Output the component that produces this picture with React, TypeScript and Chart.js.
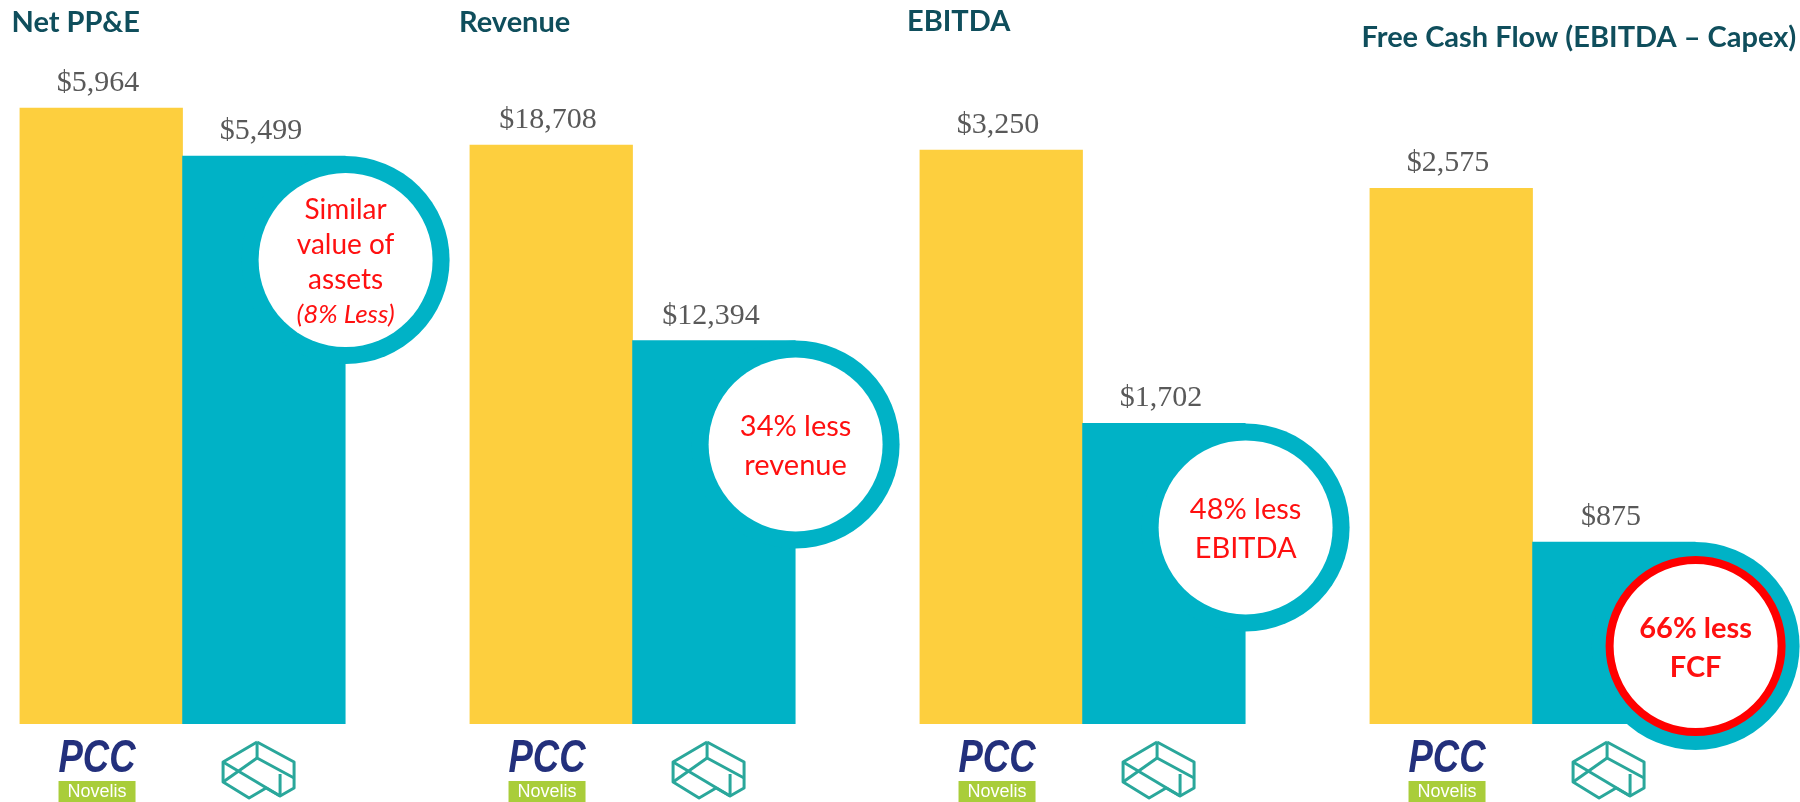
import React, { useEffect, useRef } from 'react';
import { Chart, registerables } from 'chart.js';

Chart.register(...registerables);

// ---- data ----
const panelTitles = ['Net PP&E', 'Revenue', 'EBITDA', 'Free Cash Flow (EBITDA \u2013 Capex)'];
const companies = ['PCC', 'Arconic'];
const pccValues = [5964, 18708, 3250, 2575];
const arconicValues = [5499, 12394, 1702, 875];
const axisMax = [7010, 23400, 4100, 3480];
const bubbleLines = [
  ['Similar', 'value of', 'assets', '(8% Less)'],
  ['34% less', 'revenue'],
  ['48% less', 'EBITDA'],
  ['66% less', 'FCF'],
];

// ---- layout / style ----
const W = 1800;
const H = 802;
const PANEL_STEP = 450;
const BAR_LEFT = 19.5;
const BAR_RIGHT = 345.6;
const BASELINE = 724;
const YELLOW = '#FDCF3E';
const TEAL = '#00B2C6';
const TITLE_COLOR = '#0F4E5C';
const LABEL_COLOR = '#595959';
const RED = '#FF1010';
const titleDx = [-8, -10.5, -12.5, -8];
const titleY = [32, 32, 31, 47];

function fmt(v: number) {
  return '$' + v.toLocaleString('en-US');
}

function drawPCC(ctx: CanvasRenderingContext2D, cx: number) {
  ctx.save();
  ctx.font = 'italic 900 46px "Liberation Sans"';
  const w = ctx.measureText('PCC').width;
  ctx.translate(cx, 772);
  ctx.scale(77 / w, 1);
  ctx.fillStyle = '#23307C';
  ctx.textAlign = 'center';
  ctx.textBaseline = 'alphabetic';
  ctx.fillText('PCC', 0, 0);
  ctx.restore();
  ctx.save();
  ctx.fillStyle = '#A9CD3A';
  ctx.fillRect(cx - 38.5, 781, 77, 21);
  ctx.fillStyle = '#ffffff';
  ctx.font = '18px "Liberation Sans"';
  ctx.textAlign = 'center';
  ctx.textBaseline = 'middle';
  ctx.fillText('Novelis', cx, 792);
  ctx.restore();
}

function drawArconic(ctx: CanvasRenderingContext2D, cx: number) {
  const x0 = cx - 36;
  const y0 = 742;
  const p = (x: number, y: number): [number, number] => [x0 + x, y0 + y];
  const seg = (pts: [number, number][]) => {
    ctx.beginPath();
    ctx.moveTo(pts[0][0], pts[0][1]);
    for (let k = 1; k < pts.length; k++) ctx.lineTo(pts[k][0], pts[k][1]);
    ctx.stroke();
  };
  ctx.save();
  ctx.strokeStyle = '#2AA79B';
  ctx.lineWidth = 3;
  ctx.lineJoin = 'round';
  // outer outline
  seg([p(35, 0), p(1, 20), p(1, 40), p(27, 56), p(44, 46), p(58, 54), p(72, 46), p(72, 20), p(35, 0)]);
  // inner lines
  seg([p(35, 0), p(35, 16), p(72, 36)]);
  seg([p(1, 20), p(58, 54)]);
  seg([p(35, 16), p(1, 40)]);
  seg([p(58, 32), p(58, 54)]);
  ctx.restore();
}

function makeConfig(i: number): any {
  const ox = i * PANEL_STEP;
  const decor = {
    id: 'decor' + i,
    afterDatasetsDraw(chart: any) {
      const ctx: CanvasRenderingContext2D = chart.ctx;
      const meta = chart.getDatasetMeta(0);
      const yb = meta.data[0].getProps(['x', 'y', 'width'], true);
      const tb = meta.data[1].getProps(['x', 'y', 'width'], true);

      // bubble
      const R = 104;
      const cx = tb.x + tb.width / 2;
      const cy = tb.y + R;
      ctx.save();
      ctx.fillStyle = TEAL;
      ctx.beginPath();
      ctx.arc(cx, cy, R, 0, Math.PI * 2);
      ctx.fill();
      ctx.fillStyle = '#ffffff';
      ctx.beginPath();
      ctx.arc(cx, cy, i === 3 ? 86 : 87, 0, Math.PI * 2);
      ctx.fill();
      if (i === 3) {
        ctx.strokeStyle = '#FF0000';
        ctx.lineWidth = 8;
        ctx.beginPath();
        ctx.arc(cx, cy, 86, 0, Math.PI * 2);
        ctx.stroke();
      }
      const lines = bubbleLines[i];
      const lh = i === 0 ? 35 : 39;
      const startY = cy + 2 - ((lines.length - 1) * lh) / 2;
      ctx.fillStyle = RED;
      ctx.textAlign = 'center';
      ctx.textBaseline = 'middle';
      lines.forEach((t, k) => {
        if (i === 3) ctx.font = 'bold 29px Lato';
        else if (i === 0 && k === lines.length - 1) ctx.font = 'italic 26px Lato';
        else ctx.font = i === 0 ? '28px Lato' : '29px Lato';
        ctx.fillText(t, cx, startY + k * lh);
      });
      ctx.restore();

      // value labels
      ctx.save();
      ctx.fillStyle = LABEL_COLOR;
      ctx.font = '30px "Liberation Serif"';
      ctx.textAlign = 'center';
      ctx.textBaseline = 'alphabetic';
      ctx.fillText(fmt(pccValues[i]), yb.x - 3, yb.y - 17);
      ctx.fillText(fmt(arconicValues[i]), tb.x - 3, tb.y - 17);
      ctx.restore();

      // title
      ctx.save();
      ctx.fillStyle = TITLE_COLOR;
      ctx.font = 'bold 29px Lato';
      ctx.textAlign = 'left';
      ctx.textBaseline = 'alphabetic';
      ctx.fillText(panelTitles[i], chart.chartArea.left + titleDx[i], titleY[i]);
      ctx.restore();

      // logos
      drawPCC(ctx, yb.x - 4);
      drawArconic(ctx, tb.x - 6);
    },
  };

  return {
    type: 'bar',
    data: {
      labels: companies,
      datasets: [
        {
          label: panelTitles[i],
          data: [pccValues[i], arconicValues[i]],
          backgroundColor: [YELLOW, TEAL],
          borderWidth: 0,
          barPercentage: 1,
          categoryPercentage: 1,
        },
      ],
    },
    options: {
      responsive: false,
      animation: false,
      events: [],
      layout: {
        padding: {
          left: ox + BAR_LEFT,
          right: W - (ox + BAR_RIGHT),
          top: 0,
          bottom: H - BASELINE,
        },
      },
      plugins: {
        legend: { display: false },
        tooltip: { enabled: false },
        title: { display: false },
      },
      scales: {
        x: { display: false, grid: { display: false } },
        y: { display: false, min: 0, max: axisMax[i], grid: { display: false } },
      },
    },
    plugins: [decor],
  };
}

export default function App() {
  const refs = [useRef<HTMLCanvasElement>(null), useRef<HTMLCanvasElement>(null), useRef<HTMLCanvasElement>(null), useRef<HTMLCanvasElement>(null)];
  useEffect(() => {
    document.body.style.margin = '0';
    document.body.style.background = '#ffffff';
    const charts = refs.map((r, i) => new Chart(r.current as HTMLCanvasElement, makeConfig(i)));
    return () => charts.forEach((c) => c.destroy());
  }, []);
  return (
    <div style={{ position: 'relative', width: W, height: H, background: '#ffffff', overflow: 'hidden' }}>
      {refs.map((r, i) => (
        <canvas
          key={i}
          ref={r}
          width={W}
          height={H}
          style={{ position: 'absolute', left: 0, top: 0, width: W, height: H }}
        />
      ))}
    </div>
  );
}
